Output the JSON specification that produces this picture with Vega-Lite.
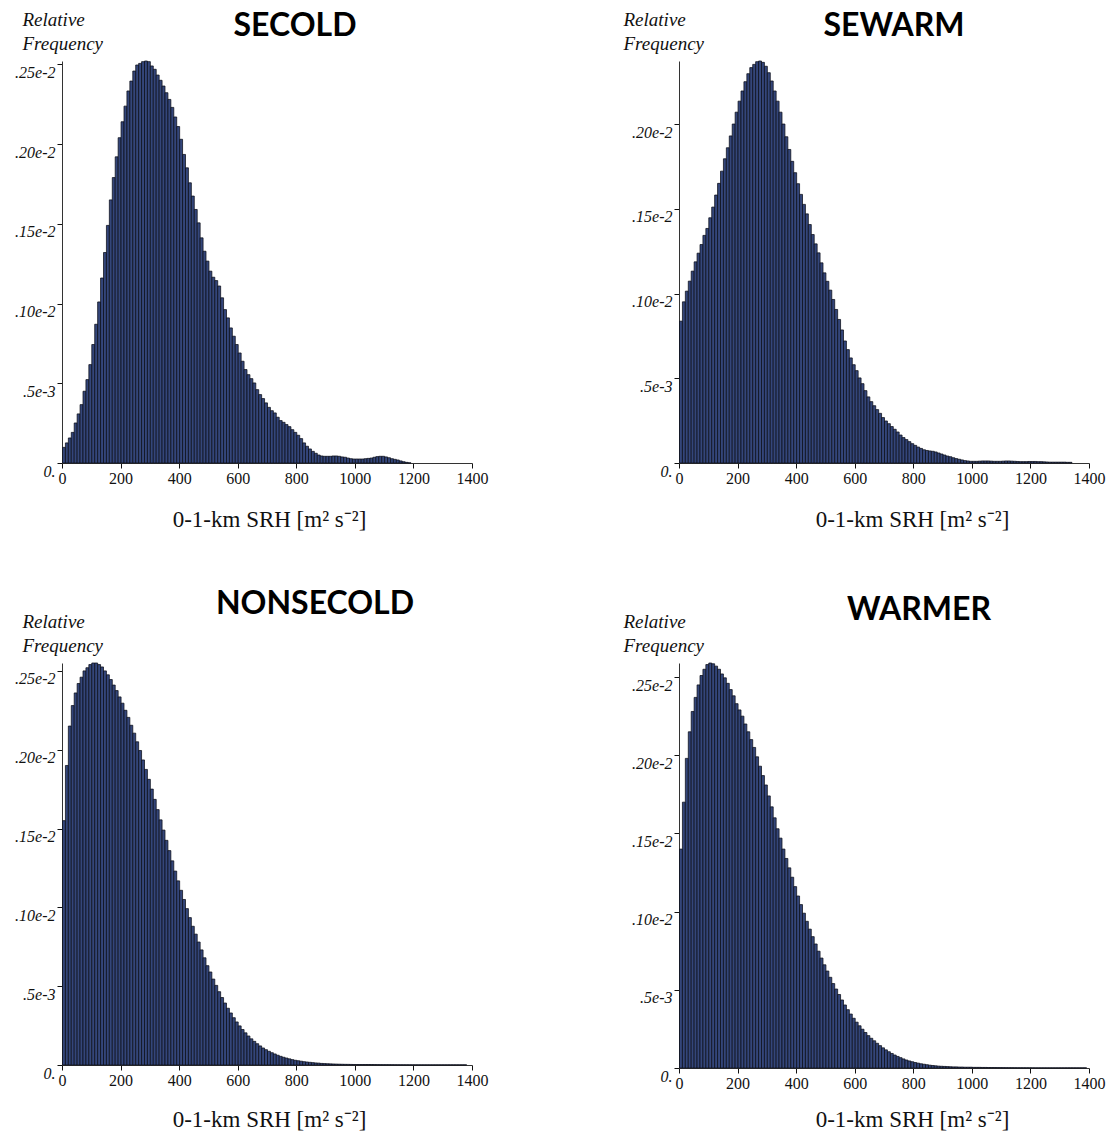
{
  "$schema": "https://vega.github.io/schema/vega-lite/v6.json",
  "background": "white",
  "padding": {"left": 14, "top": 10, "right": 5, "bottom": 2},
  "config": {
    "view": {"stroke": null},
    "bar": {"fill": "#34467a", "stroke": "#0b0d18", "strokeWidth": 0.75, "binSpacing": 0},
    "axis": {
      "grid": false,
      "domainColor": "#333333",
      "tickColor": "#111111",
      "tickSize": 5,
      "labelColor": "#111111",
      "titleColor": "#111111",
      "labelFont": "Liberation Serif",
      "titleFont": "Liberation Serif",
      "titleFontWeight": "normal"
    },
    "axisX": {"labelFontSize": 16, "labelPadding": 2, "titleFontSize": 23, "titleBaseline": "alphabetic", "titleY": 63, "labelFlush": false, "format": "d"},
    "axisY": {
      "labelFontSize": 16,
      "labelFontStyle": "italic",
      "labelBaseline": "top",
      "labelPadding": 2,
      "titleAngle": 0,
      "titleAlign": "left",
      "titleBaseline": "alphabetic",
      "titleFontStyle": "italic",
      "titleFontSize": 19,
      "titleLineHeight": 24,
      "titleY": -36,
      "labelExpr": "round(datum.value*10000)==0 ? '0.' : round(datum.value*10000)==5 ? '.5e-3' : round(datum.value*10000)==10 ? '.10e-2' : round(datum.value*10000)==15 ? '.15e-2' : round(datum.value*10000)==20 ? '.20e-2' : '.25e-2'"
    },
    "title": {"font": "Lato", "fontSize": 32, "fontWeight": "bold", "color": "#000000", "anchor": "middle", "frame": "group", "baseline": "alphabetic"}
  },
  "datasets": {
    "secold": [
      {"srh":0,"freq":0.000098},{"srh":10,"freq":0.000126},{"srh":20,"freq":0.000157},{"srh":30,"freq":0.000192},{"srh":40,"freq":0.000251},
      {"srh":50,"freq":0.000308},{"srh":60,"freq":0.000366},{"srh":70,"freq":0.00045},{"srh":80,"freq":0.000523},{"srh":90,"freq":0.000617},
      {"srh":100,"freq":0.000743},{"srh":110,"freq":0.00087},{"srh":120,"freq":0.00101},{"srh":130,"freq":0.00116},{"srh":140,"freq":0.00132},
      {"srh":150,"freq":0.00149},{"srh":160,"freq":0.00165},{"srh":170,"freq":0.00179},{"srh":180,"freq":0.00192},{"srh":190,"freq":0.00204},
      {"srh":200,"freq":0.00214},{"srh":210,"freq":0.002238},{"srh":220,"freq":0.002333},{"srh":230,"freq":0.002395},{"srh":240,"freq":0.002458},
      {"srh":250,"freq":0.002496},{"srh":260,"freq":0.002506},{"srh":270,"freq":0.002517},{"srh":280,"freq":0.002521},{"srh":290,"freq":0.002517},
      {"srh":300,"freq":0.00249},{"srh":310,"freq":0.002469},{"srh":320,"freq":0.002433},{"srh":330,"freq":0.0024},{"srh":340,"freq":0.002364},
      {"srh":350,"freq":0.002322},{"srh":360,"freq":0.00228},{"srh":370,"freq":0.00223},{"srh":380,"freq":0.00217},{"srh":390,"freq":0.00211},
      {"srh":400,"freq":0.00203},{"srh":410,"freq":0.001935},{"srh":420,"freq":0.001851},{"srh":430,"freq":0.001757},{"srh":440,"freq":0.001674},
      {"srh":450,"freq":0.00159},{"srh":460,"freq":0.001506},{"srh":470,"freq":0.001412},{"srh":480,"freq":0.001328},{"srh":490,"freq":0.001266},
      {"srh":500,"freq":0.001203},{"srh":510,"freq":0.001165},{"srh":520,"freq":0.001144},{"srh":530,"freq":0.00111},{"srh":540,"freq":0.001036},
      {"srh":550,"freq":0.000962},{"srh":560,"freq":0.00091},{"srh":570,"freq":0.000847},{"srh":580,"freq":0.000795},{"srh":590,"freq":0.000743},
      {"srh":600,"freq":0.00069},{"srh":610,"freq":0.000638},{"srh":620,"freq":0.000586},{"srh":630,"freq":0.000554},{"srh":640,"freq":0.000529},
      {"srh":650,"freq":0.000502},{"srh":660,"freq":0.00046},{"srh":670,"freq":0.000429},{"srh":680,"freq":0.000404},{"srh":690,"freq":0.000377},
      {"srh":700,"freq":0.000349},{"srh":710,"freq":0.000328},{"srh":720,"freq":0.000314},{"srh":730,"freq":0.000287},{"srh":740,"freq":0.000266},
      {"srh":750,"freq":0.000255},{"srh":760,"freq":0.000241},{"srh":770,"freq":0.000228},{"srh":780,"freq":0.000209},{"srh":790,"freq":0.000192},
      {"srh":800,"freq":0.000174},{"srh":810,"freq":0.000153},{"srh":820,"freq":0.000126},{"srh":830,"freq":0.000105},{"srh":840,"freq":0.000088},
      {"srh":850,"freq":0.000073},{"srh":860,"freq":0.000061},{"srh":870,"freq":0.00005},{"srh":880,"freq":0.000044},{"srh":890,"freq":0.000042},
      {"srh":900,"freq":0.000042},{"srh":910,"freq":0.000042},{"srh":920,"freq":0.000044},{"srh":930,"freq":0.000044},{"srh":940,"freq":0.000042},
      {"srh":950,"freq":0.000038},{"srh":960,"freq":0.000036},{"srh":970,"freq":0.000031},{"srh":980,"freq":0.000027},{"srh":990,"freq":0.000025},
      {"srh":1000,"freq":0.000025},{"srh":1010,"freq":0.000025},{"srh":1020,"freq":0.000025},{"srh":1030,"freq":0.000027},{"srh":1040,"freq":0.000029},
      {"srh":1050,"freq":0.000031},{"srh":1060,"freq":0.000036},{"srh":1070,"freq":0.00004},{"srh":1080,"freq":0.000042},{"srh":1090,"freq":0.000042},
      {"srh":1100,"freq":0.000038},{"srh":1110,"freq":0.000033},{"srh":1120,"freq":0.000027},{"srh":1130,"freq":0.000023},{"srh":1140,"freq":0.000019},
      {"srh":1150,"freq":0.000013},{"srh":1160,"freq":0.000008},{"srh":1170,"freq":0.000004},{"srh":1180,"freq":0.000001}
    ],
    "sewarm": [
      {"srh":0,"freq":0.000837},{"srh":10,"freq":0.000951},{"srh":20,"freq":0.001014},{"srh":30,"freq":0.001073},{"srh":40,"freq":0.001132},
      {"srh":50,"freq":0.001187},{"srh":60,"freq":0.001238},{"srh":70,"freq":0.001289},{"srh":80,"freq":0.001343},{"srh":90,"freq":0.001384},
      {"srh":100,"freq":0.001447},{"srh":110,"freq":0.00151},{"srh":120,"freq":0.001581},{"srh":130,"freq":0.00165},{"srh":140,"freq":0.001722},
      {"srh":150,"freq":0.001795},{"srh":160,"freq":0.00186},{"srh":170,"freq":0.00193},{"srh":180,"freq":0.002},{"srh":190,"freq":0.00207},
      {"srh":200,"freq":0.002135},{"srh":210,"freq":0.002195},{"srh":220,"freq":0.00225},{"srh":230,"freq":0.002297},{"srh":240,"freq":0.002333},
      {"srh":250,"freq":0.002352},{"srh":260,"freq":0.002368},{"srh":270,"freq":0.002372},{"srh":280,"freq":0.002364},{"srh":290,"freq":0.002341},
      {"srh":300,"freq":0.002303},{"srh":310,"freq":0.002254},{"srh":320,"freq":0.002195},{"srh":330,"freq":0.002135},{"srh":340,"freq":0.00207},
      {"srh":350,"freq":0.002},{"srh":360,"freq":0.001925},{"srh":370,"freq":0.00185},{"srh":380,"freq":0.00178},{"srh":390,"freq":0.001713},
      {"srh":400,"freq":0.001648},{"srh":410,"freq":0.001585},{"srh":420,"freq":0.001526},{"srh":430,"freq":0.00147},{"srh":440,"freq":0.001407},
      {"srh":450,"freq":0.001348},{"srh":460,"freq":0.001293},{"srh":470,"freq":0.00124},{"srh":480,"freq":0.001181},{"srh":490,"freq":0.001122},
      {"srh":500,"freq":0.001072},{"srh":510,"freq":0.00102},{"srh":520,"freq":0.000965},{"srh":530,"freq":0.000906},{"srh":540,"freq":0.000847},
      {"srh":550,"freq":0.000785},{"srh":560,"freq":0.00072},{"srh":570,"freq":0.000669},{"srh":580,"freq":0.00062},{"srh":590,"freq":0.00058},
      {"srh":600,"freq":0.000545},{"srh":610,"freq":0.000502},{"srh":620,"freq":0.000468},{"srh":630,"freq":0.000427},{"srh":640,"freq":0.00039},
      {"srh":650,"freq":0.000362},{"srh":660,"freq":0.000338},{"srh":670,"freq":0.000315},{"srh":680,"freq":0.000293},{"srh":690,"freq":0.000268},
      {"srh":700,"freq":0.000248},{"srh":710,"freq":0.000232},{"srh":720,"freq":0.000215},{"srh":730,"freq":0.000199},{"srh":740,"freq":0.000183},
      {"srh":750,"freq":0.000165},{"srh":760,"freq":0.00015},{"srh":770,"freq":0.000138},{"srh":780,"freq":0.000126},{"srh":790,"freq":0.000114},
      {"srh":800,"freq":0.000104},{"srh":810,"freq":0.000094},{"srh":820,"freq":0.000086},{"srh":830,"freq":0.000078},{"srh":840,"freq":0.000074},
      {"srh":850,"freq":0.000071},{"srh":860,"freq":0.000069},{"srh":870,"freq":0.000065},{"srh":880,"freq":0.000059},{"srh":890,"freq":0.000053},
      {"srh":900,"freq":0.000047},{"srh":910,"freq":0.000041},{"srh":920,"freq":0.000037},{"srh":930,"freq":0.000031},{"srh":940,"freq":0.000026},
      {"srh":950,"freq":0.000022},{"srh":960,"freq":0.000018},{"srh":970,"freq":0.000014},{"srh":980,"freq":0.000012},{"srh":990,"freq":0.00001},
      {"srh":1000,"freq":0.00001},{"srh":1010,"freq":0.00001},{"srh":1020,"freq":0.000011},{"srh":1030,"freq":0.000012},{"srh":1040,"freq":0.000012},
      {"srh":1050,"freq":0.000012},{"srh":1060,"freq":0.000011},{"srh":1070,"freq":0.00001},{"srh":1080,"freq":0.00001},{"srh":1090,"freq":0.00001},
      {"srh":1100,"freq":0.000011},{"srh":1110,"freq":0.000012},{"srh":1120,"freq":0.000012},{"srh":1130,"freq":0.000011},{"srh":1140,"freq":0.00001},
      {"srh":1150,"freq":0.000009},{"srh":1160,"freq":0.000008},{"srh":1170,"freq":0.000008},{"srh":1180,"freq":0.000008},{"srh":1190,"freq":0.000009},
      {"srh":1200,"freq":0.000009},{"srh":1210,"freq":0.000009},{"srh":1220,"freq":0.000008},{"srh":1230,"freq":0.000008},{"srh":1240,"freq":0.000007},
      {"srh":1250,"freq":0.000006},{"srh":1260,"freq":0.000005},{"srh":1270,"freq":0.000005},{"srh":1280,"freq":0.000005},{"srh":1290,"freq":0.000005},
      {"srh":1300,"freq":0.000005},{"srh":1310,"freq":0.000005},{"srh":1320,"freq":0.000004},{"srh":1330,"freq":0.000004}
    ],
    "nonsecold": [
      {"srh":0,"freq":0.00155},{"srh":10,"freq":0.0019},{"srh":20,"freq":0.00215},{"srh":30,"freq":0.00228},{"srh":40,"freq":0.00236},
      {"srh":50,"freq":0.00242},{"srh":60,"freq":0.00246},{"srh":70,"freq":0.0025},{"srh":80,"freq":0.00252},{"srh":90,"freq":0.00254},
      {"srh":100,"freq":0.00255},{"srh":110,"freq":0.00255},{"srh":120,"freq":0.00254},{"srh":130,"freq":0.002525},{"srh":140,"freq":0.0025},
      {"srh":150,"freq":0.002475},{"srh":160,"freq":0.002445},{"srh":170,"freq":0.00241},{"srh":180,"freq":0.002375},{"srh":190,"freq":0.002335},
      {"srh":200,"freq":0.002295},{"srh":210,"freq":0.00225},{"srh":220,"freq":0.002205},{"srh":230,"freq":0.002155},{"srh":240,"freq":0.002105},
      {"srh":250,"freq":0.00205},{"srh":260,"freq":0.001995},{"srh":270,"freq":0.001935},{"srh":280,"freq":0.001875},{"srh":290,"freq":0.001812},
      {"srh":300,"freq":0.00175},{"srh":310,"freq":0.001685},{"srh":320,"freq":0.00162},{"srh":330,"freq":0.001555},{"srh":340,"freq":0.00149},
      {"srh":350,"freq":0.001425},{"srh":360,"freq":0.00136},{"srh":370,"freq":0.001295},{"srh":380,"freq":0.00123},{"srh":390,"freq":0.001168},
      {"srh":400,"freq":0.001108},{"srh":410,"freq":0.00105},{"srh":420,"freq":0.000992},{"srh":430,"freq":0.000935},{"srh":440,"freq":0.00088},
      {"srh":450,"freq":0.00083},{"srh":460,"freq":0.00078},{"srh":470,"freq":0.00073},{"srh":480,"freq":0.00068},{"srh":490,"freq":0.00063},
      {"srh":500,"freq":0.00059},{"srh":510,"freq":0.000545},{"srh":520,"freq":0.000505},{"srh":530,"freq":0.000465},{"srh":540,"freq":0.000428},
      {"srh":550,"freq":0.000393},{"srh":560,"freq":0.00036},{"srh":570,"freq":0.00033},{"srh":580,"freq":0.0003},{"srh":590,"freq":0.000273},
      {"srh":600,"freq":0.000248},{"srh":610,"freq":0.000225},{"srh":620,"freq":0.000204},{"srh":630,"freq":0.000184},{"srh":640,"freq":0.000166},
      {"srh":650,"freq":0.00015},{"srh":660,"freq":0.000135},{"srh":670,"freq":0.000121},{"srh":680,"freq":0.000108},{"srh":690,"freq":0.000097},
      {"srh":700,"freq":0.000087},{"srh":710,"freq":0.000078},{"srh":720,"freq":0.00007},{"srh":730,"freq":0.000062},{"srh":740,"freq":0.000055},
      {"srh":750,"freq":0.000049},{"srh":760,"freq":0.000044},{"srh":770,"freq":0.000039},{"srh":780,"freq":0.000034},{"srh":790,"freq":0.00003},
      {"srh":800,"freq":0.000027},{"srh":810,"freq":0.000024},{"srh":820,"freq":0.000021},{"srh":830,"freq":0.000019},{"srh":840,"freq":0.000017},
      {"srh":850,"freq":0.000015},{"srh":860,"freq":0.000013},{"srh":870,"freq":0.000012},{"srh":880,"freq":0.00001},{"srh":890,"freq":0.000009},
      {"srh":900,"freq":0.000008},{"srh":910,"freq":0.0000072},{"srh":920,"freq":0.0000065},{"srh":930,"freq":0.0000058},{"srh":940,"freq":0.0000052},
      {"srh":950,"freq":0.0000047},{"srh":960,"freq":0.0000042},{"srh":970,"freq":0.000004},{"srh":980,"freq":0.0000036},{"srh":990,"freq":0.0000032},
      {"srh":1000,"freq":0.000003},{"srh":1010,"freq":0.000003},{"srh":1020,"freq":0.000003},{"srh":1030,"freq":0.000003},{"srh":1040,"freq":0.000003},
      {"srh":1050,"freq":0.0000028},{"srh":1060,"freq":0.0000026},{"srh":1070,"freq":0.0000024},{"srh":1080,"freq":0.0000022},{"srh":1090,"freq":0.000002},
      {"srh":1100,"freq":0.000002},{"srh":1110,"freq":0.000002},{"srh":1120,"freq":0.0000018},{"srh":1130,"freq":0.0000016},{"srh":1140,"freq":0.0000015},
      {"srh":1150,"freq":0.0000014},{"srh":1160,"freq":0.0000013},{"srh":1170,"freq":0.0000012},{"srh":1180,"freq":0.0000011},{"srh":1190,"freq":0.000001},
      {"srh":1200,"freq":0.000001},{"srh":1210,"freq":0.000001},{"srh":1220,"freq":0.000001},{"srh":1230,"freq":0.000001},{"srh":1240,"freq":0.000001},
      {"srh":1250,"freq":0.000001},{"srh":1260,"freq":0.000001},{"srh":1270,"freq":0.000001},{"srh":1280,"freq":0.000001},{"srh":1290,"freq":0.000001},
      {"srh":1300,"freq":0.000001},{"srh":1310,"freq":0.000001},{"srh":1320,"freq":0.000001},{"srh":1330,"freq":0.000001},{"srh":1340,"freq":0.000001},
      {"srh":1350,"freq":0.000001},{"srh":1360,"freq":0.000001},{"srh":1370,"freq":0.000001}
    ],
    "warmer": [
      {"srh":0,"freq":0.0014},{"srh":10,"freq":0.0017},{"srh":20,"freq":0.00198},{"srh":30,"freq":0.00215},{"srh":40,"freq":0.00228},
      {"srh":50,"freq":0.00237},{"srh":60,"freq":0.00245},{"srh":70,"freq":0.00251},{"srh":80,"freq":0.00255},{"srh":90,"freq":0.00258},
      {"srh":100,"freq":0.00259},{"srh":110,"freq":0.002585},{"srh":120,"freq":0.00257},{"srh":130,"freq":0.00255},{"srh":140,"freq":0.00252},
      {"srh":150,"freq":0.002495},{"srh":160,"freq":0.00246},{"srh":170,"freq":0.00242},{"srh":180,"freq":0.00238},{"srh":190,"freq":0.00233},
      {"srh":200,"freq":0.00229},{"srh":210,"freq":0.00225},{"srh":220,"freq":0.0022},{"srh":230,"freq":0.00215},{"srh":240,"freq":0.0021},
      {"srh":250,"freq":0.00205},{"srh":260,"freq":0.00199},{"srh":270,"freq":0.00193},{"srh":280,"freq":0.00187},{"srh":290,"freq":0.00181},
      {"srh":300,"freq":0.00174},{"srh":310,"freq":0.00167},{"srh":320,"freq":0.0016},{"srh":330,"freq":0.00153},{"srh":340,"freq":0.00147},
      {"srh":350,"freq":0.0014},{"srh":360,"freq":0.00134},{"srh":370,"freq":0.00128},{"srh":380,"freq":0.00122},{"srh":390,"freq":0.00116},
      {"srh":400,"freq":0.0011},{"srh":410,"freq":0.001045},{"srh":420,"freq":0.00099},{"srh":430,"freq":0.000938},{"srh":440,"freq":0.000888},
      {"srh":450,"freq":0.00084},{"srh":460,"freq":0.000793},{"srh":470,"freq":0.000747},{"srh":480,"freq":0.000703},{"srh":490,"freq":0.00066},
      {"srh":500,"freq":0.00062},{"srh":510,"freq":0.00058},{"srh":520,"freq":0.00054},{"srh":530,"freq":0.000505},{"srh":540,"freq":0.00047},
      {"srh":550,"freq":0.000435},{"srh":560,"freq":0.000403},{"srh":570,"freq":0.000373},{"srh":580,"freq":0.000345},{"srh":590,"freq":0.000318},
      {"srh":600,"freq":0.000293},{"srh":610,"freq":0.00027},{"srh":620,"freq":0.000248},{"srh":630,"freq":0.000227},{"srh":640,"freq":0.000207},
      {"srh":650,"freq":0.00019},{"srh":660,"freq":0.000174},{"srh":670,"freq":0.000158},{"srh":680,"freq":0.000143},{"srh":690,"freq":0.000129},
      {"srh":700,"freq":0.000116},{"srh":710,"freq":0.000104},{"srh":720,"freq":0.000093},{"srh":730,"freq":0.000083},{"srh":740,"freq":0.000074},
      {"srh":750,"freq":0.000066},{"srh":760,"freq":0.000058},{"srh":770,"freq":0.000051},{"srh":780,"freq":0.000045},{"srh":790,"freq":0.00004},
      {"srh":800,"freq":0.000035},{"srh":810,"freq":0.000031},{"srh":820,"freq":0.000027},{"srh":830,"freq":0.000024},{"srh":840,"freq":0.000021},
      {"srh":850,"freq":0.000018},{"srh":860,"freq":0.000016},{"srh":870,"freq":0.000014},{"srh":880,"freq":0.000012},{"srh":890,"freq":0.000011},
      {"srh":900,"freq":0.00001},{"srh":910,"freq":0.000009},{"srh":920,"freq":0.000008},{"srh":930,"freq":0.000007},{"srh":940,"freq":0.000007},
      {"srh":950,"freq":0.000006},{"srh":960,"freq":0.000006},{"srh":970,"freq":0.000005},{"srh":980,"freq":0.000005},{"srh":990,"freq":0.000005},
      {"srh":1000,"freq":0.000004},{"srh":1010,"freq":0.000004},{"srh":1020,"freq":0.000004},{"srh":1030,"freq":0.0000035},{"srh":1040,"freq":0.0000035},
      {"srh":1050,"freq":0.000003},{"srh":1060,"freq":0.000003},{"srh":1070,"freq":0.000003},{"srh":1080,"freq":0.0000028},{"srh":1090,"freq":0.0000026},
      {"srh":1100,"freq":0.0000024},{"srh":1110,"freq":0.0000022},{"srh":1120,"freq":0.000002},{"srh":1130,"freq":0.000002},{"srh":1140,"freq":0.0000018},
      {"srh":1150,"freq":0.0000016},{"srh":1160,"freq":0.0000015},{"srh":1170,"freq":0.0000014},{"srh":1180,"freq":0.0000013},{"srh":1190,"freq":0.0000012},
      {"srh":1200,"freq":0.0000011},{"srh":1210,"freq":0.000001},{"srh":1220,"freq":0.000001},{"srh":1230,"freq":0.000001},{"srh":1240,"freq":0.000001},
      {"srh":1250,"freq":0.000001},{"srh":1260,"freq":0.000001},{"srh":1270,"freq":0.000001},{"srh":1280,"freq":0.000001},{"srh":1290,"freq":0.000001},
      {"srh":1300,"freq":0.000001},{"srh":1310,"freq":0.000001},{"srh":1320,"freq":0.000001},{"srh":1330,"freq":0.000001},{"srh":1340,"freq":0.000001},
      {"srh":1350,"freq":0.000001},{"srh":1360,"freq":0.000001},{"srh":1370,"freq":0.000001},{"srh":1380,"freq":0.000001}
    ]
  },
  "columns": 2,
  "bounds": "flush",
  "spacing": {"row": 200, "column": 207},
  "concat": [
    {
      "title": {"text": "SECOLD", "offset": -33, "dx": 28},
      "width": 410,
      "height": 402,
      "data": {"name": "secold"},
      "mark": {"type": "bar"},
      "encoding": {
        "x": {"field": "srh", "type": "quantitative", "bin": {"binned": true, "step": 10}, "scale": {"domain": [0, 1400]},
              "axis": {"values": [0, 200, 400, 600, 800, 1000, 1200, 1400], "title": "0-1-km SRH [m² s⁻²]", "titleX": 207}},
        "y": {"field": "freq", "type": "quantitative", "scale": {"nice": false},
              "axis": {"values": [0, 0.0005, 0.001, 0.0015, 0.002, 0.0025], "title": ["Relative", "Frequency"], "titleX": -40}}
      }
    },
    {
      "title": {"text": "SEWARM", "offset": -33, "dx": 10},
      "width": 410,
      "height": 402,
      "data": {"name": "sewarm"},
      "mark": {"type": "bar"},
      "encoding": {
        "x": {"field": "srh", "type": "quantitative", "bin": {"binned": true, "step": 10}, "scale": {"domain": [0, 1400]},
              "axis": {"values": [0, 200, 400, 600, 800, 1000, 1200, 1400], "title": "0-1-km SRH [m² s⁻²]", "titleX": 233}},
        "y": {"field": "freq", "type": "quantitative", "scale": {"nice": false},
              "axis": {"values": [0, 0.0005, 0.001, 0.0015, 0.002], "title": ["Relative", "Frequency"], "titleX": -56}}
      }
    },
    {
      "title": {"text": "NONSECOLD", "offset": -9, "dx": 48},
      "width": 410,
      "height": 402,
      "data": {"name": "nonsecold"},
      "mark": {"type": "bar"},
      "encoding": {
        "x": {"field": "srh", "type": "quantitative", "bin": {"binned": true, "step": 10}, "scale": {"domain": [0, 1400]},
              "axis": {"values": [0, 200, 400, 600, 800, 1000, 1200, 1400], "title": "0-1-km SRH [m² s⁻²]", "titleX": 207, "titleY": 61}},
        "y": {"field": "freq", "type": "quantitative", "scale": {"nice": false},
              "axis": {"values": [0, 0.0005, 0.001, 0.0015, 0.002, 0.0025], "title": ["Relative", "Frequency"], "titleX": -40}}
      }
    },
    {
      "title": {"text": "WARMER", "offset": -15, "dx": 35},
      "width": 410,
      "height": 405,
      "data": {"name": "warmer"},
      "mark": {"type": "bar"},
      "encoding": {
        "x": {"field": "srh", "type": "quantitative", "bin": {"binned": true, "step": 10}, "scale": {"domain": [0, 1400]},
              "axis": {"values": [0, 200, 400, 600, 800, 1000, 1200, 1400], "title": "0-1-km SRH [m² s⁻²]", "titleX": 233, "titleY": 58}},
        "y": {"field": "freq", "type": "quantitative", "scale": {"nice": false},
              "axis": {"values": [0, 0.0005, 0.001, 0.0015, 0.002, 0.0025], "title": ["Relative", "Frequency"], "titleX": -56}}
      }
    }
  ]
}
